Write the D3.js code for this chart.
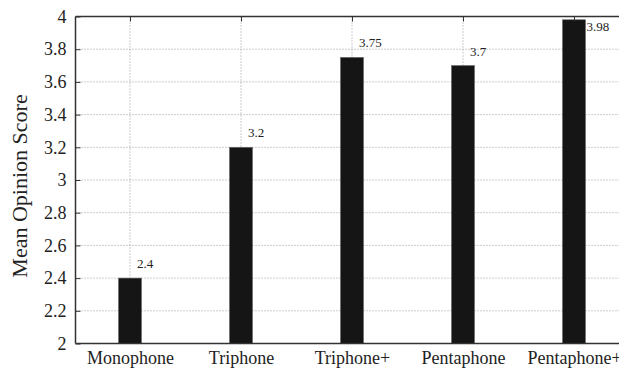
<!DOCTYPE html>
<html>
<head>
<meta charset="utf-8">
<script src="https://cdn.jsdelivr.net/npm/d3@7"></script>
<style>
  body { margin: 0; background: #fff; }
  svg { display: block; font-family: "Liberation Serif", "Times New Roman", serif; }
  .grid line { stroke: #9a9a9a; stroke-width: 1; stroke-dasharray: 1,2; }
</style>
</head>
<body>
<svg width="619" height="368"></svg>
<script>
var categories = ["Monophone", "Triphone", "Triphone+", "Pentaphone", "Pentaphone+"];
var scores = [2.4, 3.2, 3.75, 3.7, 3.98];
var yTicks = [2, 2.2, 2.4, 2.6, 2.8, 3, 3.2, 3.4, 3.6, 3.8, 4];

var svg = d3.select("svg");

var plotLeft = 75.5, plotTop = 16.5, plotBottom = 343.5;

var x = d3.scalePoint()
    .domain(categories)
    .range([74.5, 629.5])
    .padding(0.5);

var y = d3.scaleLinear()
    .domain([2, 4])
    .range([plotBottom, plotTop]);

var barWidth = 23;

// grid
var grid = svg.append("g").attr("class", "grid");
grid.selectAll("line.h")
    .data(yTicks.slice(1, -1))
    .enter().append("line")
    .attr("class", "h")
    .attr("x1", plotLeft).attr("x2", 640)
    .attr("y1", function(d) { return y(d); })
    .attr("y2", function(d) { return y(d); });
grid.selectAll("line.v")
    .data(categories)
    .enter().append("line")
    .attr("class", "v")
    .attr("x1", function(d) { return x(d); })
    .attr("x2", function(d) { return x(d); })
    .attr("y1", plotTop).attr("y2", plotBottom);

// bars
svg.append("g")
  .selectAll("rect")
  .data(categories)
  .enter().append("rect")
    .attr("x", function(d) { return x(d) - barWidth / 2; })
    .attr("y", function(d, i) { return y(scores[i]); })
    .attr("width", barWidth)
    .attr("height", function(d, i) { return plotBottom - y(scores[i]); })
    .attr("fill", "#151515")
    .attr("stroke", "#666")
    .attr("stroke-width", 0.6);

// value labels
function labelInside(i) { return y(scores[i]) - 10 < plotTop + 6; }

svg.append("g")
  .selectAll("text")
  .data(categories)
  .enter().append("text")
    .attr("x", function(d, i) {
      return labelInside(i) ? x(d) + barWidth / 2 + 1 : x(d) + 7;
    })
    .attr("y", function(d, i) {
      return labelInside(i) ? plotTop + 14 : y(scores[i]) - 10;
    })
    .attr("font-size", 13)
    .attr("fill", "#222")
    .text(function(d, i) { return scores[i]; });

// axes
var yAxis = d3.axisLeft(y)
    .tickValues(yTicks)
    .tickSize(-5)
    .tickPadding(9)
    .tickFormat(function(d) { return d; });

var gy = svg.append("g")
    .attr("transform", "translate(" + plotLeft + ",0)")
    .call(yAxis);
gy.select(".domain").remove();
gy.selectAll(".tick text").attr("font-size", 18).attr("fill", "#222").attr("font-family", "Liberation Serif");
gy.selectAll(".tick line").attr("stroke", "#333");

var xAxisTop = d3.axisTop(x).tickSize(-5).tickFormat("");
var gt = svg.append("g")
    .attr("transform", "translate(0," + plotTop + ")")
    .call(xAxisTop);
gt.select(".domain").remove();
gt.selectAll(".tick line").attr("stroke", "#333");

var xAxis = d3.axisBottom(x).tickSize(0).tickPadding(8);
var gx = svg.append("g")
    .attr("transform", "translate(0," + plotBottom + ")")
    .call(xAxis);
gx.select(".domain").remove();
gx.selectAll(".tick text").attr("font-size", 18).attr("fill", "#222").attr("font-family", "Liberation Serif");

// frame lines
svg.append("line")
    .attr("x1", plotLeft).attr("x2", plotLeft)
    .attr("y1", plotTop).attr("y2", plotBottom)
    .attr("stroke", "#333").attr("stroke-width", 1.5);
svg.append("line")
    .attr("x1", plotLeft).attr("x2", 640)
    .attr("y1", plotTop).attr("y2", plotTop)
    .attr("stroke", "#333").attr("stroke-width", 1.5);
svg.append("line")
    .attr("x1", plotLeft).attr("x2", 640)
    .attr("y1", plotBottom).attr("y2", plotBottom)
    .attr("stroke", "#333").attr("stroke-width", 1.5);

// y title
svg.append("text")
    .attr("transform", "translate(27,186) rotate(-90)")
    .attr("text-anchor", "middle")
    .attr("font-size", 22)
    .attr("fill", "#222")
    .text("Mean Opinion Score");
</script>
</body>
</html>
